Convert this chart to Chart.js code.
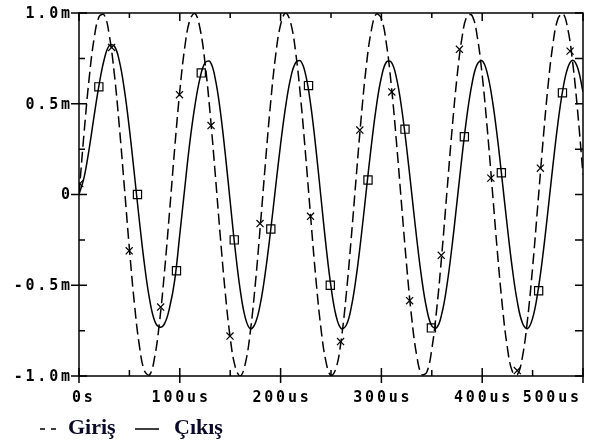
<!DOCTYPE html>
<html>
<head>
<meta charset="utf-8">
<script src="https://cdn.jsdelivr.net/npm/chart.js@4.4.0/dist/chart.umd.min.js"></script>
<style>
  html, body { margin: 0; padding: 0; background: #fff; }
  #wrap { width: 590px; height: 443px; }
</style>
</head>
<body>
<div id="wrap"><canvas id="plot" width="590" height="443"></canvas></div>
<script>
// zaman adımı (us)
const timeStep = 5;

// Giriş (mV), 0..500us, her 5us
const giris = [
  0, 0.338, 0.636, 0.859, 0.981, 0.989, 0.879, 0.667, 0.376, 0.041,
  -0.299, -0.603, -0.837, -0.973, -0.994, -0.898, -0.697, -0.414, -0.083, 0.259,
  0.570, 0.814, 0.962, 0.998, 0.916, 0.726, 0.451, 0.124, -0.219, -0.535,
  -0.789, -0.950, -1.000, -0.932, -0.754, -0.488, -0.165, 0.178, 0.500, 0.763,
  0.936, 1.000, 0.946, 0.781, 0.524, 0.205, -0.137, -0.464, -0.736, -0.921,
  -0.998, -0.958, -0.806, -0.558, -0.245, 0.096, 0.427, 0.707, 0.904, 0.995,
  0.969, 0.829, 0.592, 0.285, -0.055, -0.389, -0.677, -0.886, -0.991, -0.979,
  -0.852, -0.625, -0.325, 0.014, 0.351, 0.646, 0.866, 0.984, 0.986, 0.873,
  0.657, 0.364, 0.028, -0.312, -0.614, -0.845, -0.976, -0.992, -0.892, -0.687,
  -0.402, -0.069, 0.272, 0.581, 0.822, 0.966, 0.997, 0.910, 0.717, 0.439,
  0.110
];

// Çıkış (mV)
const cikis = [
  0.000, 0.093, 0.249, 0.433, 0.607, 0.744, 0.820, 0.818, 0.736, 0.578,
  0.362, 0.109, -0.150, -0.388, -0.577, -0.696, -0.731, -0.710, -0.620, -0.470,
  -0.220, 0.040, 0.290, 0.490, 0.640, 0.725, 0.732, 0.643, 0.468, 0.229,
  -0.041, -0.306, -0.528, -0.680, -0.740, -0.708, -0.599, -0.424, -0.204, 0.039,
  0.277, 0.485, 0.643, 0.727, 0.735, 0.656, 0.488, 0.254, -0.014, -0.280,
  -0.508, -0.668, -0.738, -0.722, -0.625, -0.454, -0.230, 0.021, 0.269, 0.486,
  0.646, 0.730, 0.728, 0.641, 0.478, 0.259, 0.010, -0.241, -0.463, -0.631,
  -0.724, -0.733, -0.655, -0.501, -0.288, -0.041, 0.211, 0.439, 0.614, 0.717,
  0.737, 0.669, 0.523, 0.316, 0.071, -0.182, -0.413, -0.596, -0.709, -0.739,
  -0.682, -0.544, -0.343, -0.101, 0.152, 0.388, 0.578, 0.700, 0.740, 0.693,
  0.565
];

// işaretçiler (x: Giriş, kare: Çıkış)
const girisMarkT = [0.7, 32.4, 49.8, 81, 99.7, 131, 149.8, 179.6, 229.7, 259.5, 278.6, 310.3, 328, 359.4, 377.4, 408.6, 434.8, 457.7, 487.2];
const girisMarkV = [0.06, 0.81, -0.31, -0.62, 0.55, 0.38, -0.78, -0.16, -0.12, -0.81, 0.355, 0.565, -0.585, -0.335, 0.80, 0.09, -0.97, 0.145, 0.79];
const cikisMarkT = [19.7, 58, 96.7, 121.3, 154, 190.3, 227.7, 249.3, 286.7, 323.4, 349.6, 382.3, 419, 456, 479.6];
const cikisMarkV = [0.593, 0.0, -0.42, 0.67, -0.25, -0.19, 0.60, -0.50, 0.08, 0.36, -0.735, 0.318, 0.12, -0.53, 0.56];

// eksenler
const xMajor = [0, 100, 200, 300, 400, 500];
const xMajorLabels = ['0s', '100us', '200us', '300us', '400us', '500us'];
const xMinor = [50, 150, 250, 350, 450];
const yMajor = [1, 0.5, 0, -0.5, -1];
const yMajorLabels = ['1.0m', '0.5m', '0', '-0.5m', '-1.0m'];
const yMinor = [0.75, 0.25, -0.25, -0.75];

const seriesNames = ['Giriş', 'Çıkış'];

const times = giris.map((v, i) => i * timeStep);
const toXY = (ts, vs) => ts.map((t, i) => ({ x: t, y: vs[i] }));

// çerçeve, tik çizgileri, etiketler ve lejant
const pspiceFrame = {
  id: 'pspiceFrame',
  afterDraw(chart) {
    const { ctx, chartArea: a, scales: { x, y } } = chart;
    ctx.save();
    ctx.strokeStyle = '#000';
    ctx.lineWidth = 1.5;
    ctx.setLineDash([]);
    ctx.strokeRect(a.left, a.top, a.right - a.left, a.bottom - a.top);

    ctx.beginPath();
    xMajor.forEach(t => {
      const px = x.getPixelForValue(t);
      ctx.moveTo(px, a.bottom - 8); ctx.lineTo(px, a.bottom + 7);
      ctx.moveTo(px, a.top); ctx.lineTo(px, a.top + 8);
    });
    xMinor.forEach(t => {
      const px = x.getPixelForValue(t);
      ctx.moveTo(px, a.bottom); ctx.lineTo(px, a.bottom - 6);
      ctx.moveTo(px, a.top); ctx.lineTo(px, a.top + 5);
    });
    yMajor.forEach(v => {
      const py = y.getPixelForValue(v);
      ctx.moveTo(a.left - 8, py); ctx.lineTo(a.left + 8, py);
      ctx.moveTo(a.right, py); ctx.lineTo(a.right - 8, py);
    });
    yMinor.forEach(v => {
      const py = y.getPixelForValue(v);
      ctx.moveTo(a.left, py); ctx.lineTo(a.left + 6, py);
      ctx.moveTo(a.right, py); ctx.lineTo(a.right - 8, py);
    });
    ctx.stroke();

    // tik etiketleri
    const ls = 2.8;
    ctx.fillStyle = '#000';
    ctx.font = 'bold 15px "DejaVu Sans Mono", monospace';
    ctx.letterSpacing = ls + 'px';
    ctx.textBaseline = 'middle';
    ctx.textAlign = 'left';
    yMajor.forEach((v, i) => {
      const txt = yMajorLabels[i];
      const w = ctx.measureText(txt).width - ls;
      ctx.fillText(txt, a.left - 9 - w, y.getPixelForValue(v) + 1);
    });
    xMajor.forEach((t, i) => {
      const txt = xMajorLabels[i];
      const w = ctx.measureText(txt).width - ls;
      let x0 = x.getPixelForValue(t) - w / 2;
      x0 = Math.max(x0, a.left - 7);
      x0 = Math.min(x0, a.right - 4 - w);
      ctx.fillText(txt, x0, a.bottom + 22);
    });

    // lejant
    ctx.letterSpacing = '0px';
    const ly = 429;
    ctx.lineWidth = 1.3;
    ctx.beginPath();
    ctx.moveTo(40, ly); ctx.lineTo(45, ly);
    ctx.moveTo(51, ly); ctx.lineTo(56, ly);
    ctx.moveTo(135, ly); ctx.lineTo(159, ly);
    ctx.stroke();
    ctx.font = 'bold 22px "Liberation Serif"';
    ctx.textBaseline = 'alphabetic';
    ctx.fillStyle = '#0a0a28';
    ctx.fillText(seriesNames[0], 68, 434);
    ctx.fillText(seriesNames[1], 174, 434);
    ctx.restore();
  }
};

new Chart(document.getElementById('plot').getContext('2d'), {
  type: 'line',
  data: {
    datasets: [{
      label: seriesNames[0],
      data: toXY(times, giris),
      borderColor: '#000',
      borderWidth: 1.5,
      borderDash: [11, 5],
      tension: 0.4,
      pointRadius: 0
    }, {
      label: seriesNames[1],
      data: toXY(times, cikis),
      borderColor: '#000',
      borderWidth: 1.5,
      tension: 0.4,
      pointRadius: 0
    }, {
      label: 'girisMark',
      data: toXY(girisMarkT, girisMarkV),
      showLine: false,
      pointStyle: 'crossRot',
      pointRadius: 5,
      pointBorderWidth: 1.2,
      pointBorderColor: '#000'
    }, {
      label: 'cikisMark',
      data: toXY(cikisMarkT, cikisMarkV),
      showLine: false,
      pointStyle: 'rect',
      pointRadius: 5.8,
      pointBorderWidth: 1.2,
      pointBorderColor: '#000',
      pointBackgroundColor: 'rgba(0,0,0,0)'
    }]
  },
  options: {
    responsive: false,
    animation: false,
    devicePixelRatio: 1,
    layout: { padding: { left: 79, top: 13, right: 2, bottom: 67 } },
    plugins: {
      legend: { display: false },
      tooltip: { enabled: false }
    },
    scales: {
      x: { type: 'linear', min: 0, max: 500, display: false },
      y: { type: 'linear', min: -1, max: 1, display: false }
    }
  },
  plugins: [pspiceFrame]
});
</script>
</body>
</html>
